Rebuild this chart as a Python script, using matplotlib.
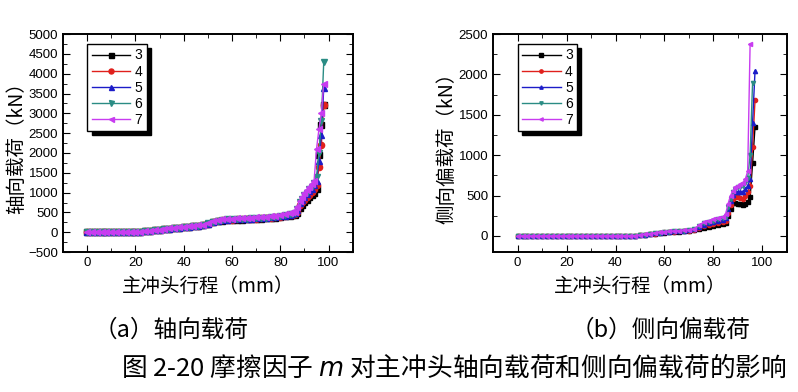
import numpy as np
import matplotlib
matplotlib.use('Agg')
import matplotlib.pyplot as plt
from matplotlib.ticker import MultipleLocator

plt.rcParams['font.family'] = ['Liberation Sans', 'Noto Sans CJK SC', 'DejaVu Sans']
CJK = ['Noto Sans CJK SC', 'DejaVu Sans']

# friction factor labels
labels = ['3', '4', '5', '6', '7']

# stroke (mm): every 2 mm up to 84, then every 1 mm
x_a = [0, 2, 4, 6, 8, 10, 12, 14, 16, 18, 20, 22, 24, 26, 28, 30, 32, 34, 36, 38, 40,
       42, 44, 46, 48, 50, 52, 54, 56, 58, 60, 62, 64, 66, 68, 70, 72, 74, 76, 78, 80,
       82, 84, 85, 86, 87, 88, 89, 90, 91, 92, 93, 94, 95, 96, 97, 98]
x_b = [0, 2, 4, 6, 8, 10, 12, 14, 16, 18, 20, 22, 24, 26, 28, 30, 32, 34, 36, 38, 40,
       42, 44, 46, 48, 50, 52, 54, 56, 58, 60, 62, 64, 66, 68, 70, 72, 74, 76, 78, 80,
       82, 84, 85, 86, 87, 88, 89, 90, 91, 92, 93, 94, 95, 96, 97]

# (a) axial load (kN)
axial_3 = [0, 0, 0, 0, 0, 0, 0, 0, 0, 2, 5, 12, 20, 32, 45, 60, 75, 90, 105, 118, 130,
           142, 155, 168, 178, 210, 250, 280, 295, 305, 310, 315, 320, 325, 330, 335, 342, 350, 360, 372, 385,
           400, 420, 430, 440, 480, 620, 700, 760, 820, 880, 940, 1000, 1080, 1950, 2700, 3200]
axial_4 = [0, 0, 0, 0, 0, 0, 0, 0, 0, 2, 5, 12, 20, 32, 45, 60, 75, 90, 105, 118, 130,
           142, 155, 168, 180, 215, 258, 288, 302, 312, 318, 323, 328, 333, 338, 343, 350, 358, 370, 382, 395,
           410, 432, 445, 455, 520, 680, 760, 820, 880, 950, 1010, 1080, 1180, 1650, 2200, 3220]
axial_5 = [0, 0, 0, 0, 0, 0, 0, 0, 0, 2, 5, 12, 20, 32, 45, 60, 75, 90, 105, 118, 130,
           142, 155, 168, 182, 220, 262, 292, 308, 318, 324, 330, 335, 340, 345, 350, 358, 366, 378, 390, 404,
           420, 445, 460, 475, 560, 740, 820, 900, 960, 1030, 1100, 1180, 1300, 1800, 2450, 3650]
axial_6 = [0, 0, 0, 0, 0, 0, 0, 0, 0, 2, 5, 12, 20, 32, 45, 60, 75, 90, 105, 118, 130,
           142, 155, 168, 183, 222, 266, 296, 312, 322, 328, 334, 340, 345, 350, 356, 364, 372, 384, 396, 410,
           428, 455, 470, 485, 580, 760, 850, 930, 1000, 1080, 1150, 1250, 1400, 2000, 2800, 4300]
axial_7 = [0, 0, 0, 0, 0, 0, 0, 0, 0, 3, 6, 14, 22, 35, 48, 64, 80, 96, 112, 125, 138,
           150, 163, 176, 192, 235, 280, 312, 330, 340, 346, 352, 358, 364, 370, 376, 385, 395, 408, 420, 435,
           455, 480, 500, 520, 640, 800, 900, 980, 1060, 1130, 1220, 1300, 2100, 2600, 3000, 3750]

# (b) lateral eccentric load (kN)
lat_3 = [0, 0, 0, 0, 0, 0, 0, 0, 0, 0, 0, 0, 0, 0, 0, 0, 0, 0, 0, 0, 0,
         0, 0, 0, 2, 6, 12, 18, 25, 32, 40, 45, 50, 53, 57, 62, 70, 85, 100, 110, 120,
         130, 145, 160, 250, 330, 410, 410, 400, 390, 380, 390, 420, 480, 900, 1350]
lat_4 = [0, 0, 0, 0, 0, 0, 0, 0, 0, 0, 0, 0, 0, 0, 0, 0, 0, 0, 0, 0, 0,
         0, 0, 0, 2, 7, 14, 20, 28, 36, 43, 48, 53, 57, 61, 65, 74, 100, 125, 140, 150,
         160, 175, 190, 290, 380, 460, 480, 480, 470, 460, 490, 540, 620, 1100, 1680]
lat_5 = [0, 0, 0, 0, 0, 0, 0, 0, 0, 0, 0, 0, 0, 0, 0, 0, 0, 0, 0, 0, 0,
         0, 0, 0, 3, 8, 16, 23, 31, 39, 46, 51, 56, 60, 64, 68, 80, 110, 140, 160, 175,
         185, 200, 220, 330, 430, 510, 540, 550, 550, 550, 580, 620, 700, 1400, 2040]
lat_6 = [0, 0, 0, 0, 0, 0, 0, 0, 0, 0, 0, 0, 0, 0, 0, 0, 0, 0, 0, 0, 0,
         0, 0, 0, 3, 9, 17, 25, 33, 41, 48, 53, 58, 62, 66, 70, 82, 120, 155, 175, 190,
         205, 220, 240, 360, 460, 540, 580, 600, 610, 620, 660, 720, 1000, 1900]
lat_7 = [0, 0, 0, 0, 0, 0, 0, 0, 0, 0, 0, 0, 0, 0, 0, 0, 0, 0, 0, 0, 0,
         0, 0, 0, 4, 10, 19, 27, 36, 44, 51, 56, 61, 65, 69, 73, 85, 130, 170, 190, 210,
         225, 240, 270, 400, 500, 560, 600, 620, 640, 660, 700, 800, 2380]

colors = ['#000000', '#e0201c', '#1c1cc8', '#2a8c84', '#c83cf0']
markers = ['s', 'o', '^', 'v', '<']


def style_axes(ax, ymin, ymax, ystep):
    ax.set_xlim(-10, 110)
    ax.set_ylim(ymin, ymax)
    ax.xaxis.set_major_locator(MultipleLocator(20))
    ax.xaxis.set_minor_locator(MultipleLocator(10))
    ax.yaxis.set_major_locator(MultipleLocator(ystep))
    ax.yaxis.set_minor_locator(MultipleLocator(ystep / 2))
    ax.tick_params(which='both', direction='in', top=True, right=True, labelsize=9.5)
    ax.tick_params(which='major', length=5)
    ax.tick_params(which='minor', length=3)
    for s in ax.spines.values():
        s.set_linewidth(1.4)
    ax.set_xlabel('主冲头行程（mm）', family=CJK, fontsize=14, labelpad=5)
    ax.legend(loc='upper left', bbox_to_anchor=(0.06, 0.985), fontsize=10,
              fancybox=False, edgecolor='k', framealpha=1, borderpad=0.3,
              handlelength=2.8, handletextpad=0.3, labelspacing=0.15, markerscale=0.8,
              shadow={'color': 'k', 'alpha': 1, 'ox': 3, 'oy': -3})


fig = plt.figure(figsize=(7.98, 3.92), dpi=100)
ax1 = fig.add_axes([0.079, 0.357, 0.363, 0.556])
ax2 = fig.add_axes([0.618, 0.357, 0.368, 0.556])

for ys, c, m, lab in zip([axial_3, axial_4, axial_5, axial_6, axial_7], colors, markers, labels):
    ax1.plot(x_a[:len(ys)], ys, color=c, marker=m, ms=4.5, lw=1.0, label=lab)
for ys, c, m, lab in zip([lat_3, lat_4, lat_5, lat_6, lat_7], colors, markers, labels):
    ax2.plot(x_b[:len(ys)], ys, color=c, marker=m, ms=3, lw=1.0, label=lab)

style_axes(ax1, -500, 5000, 500)
style_axes(ax2, -200, 2500, 500)
ax1.set_ylabel('轴向载荷（kN）', family=CJK, fontsize=14, labelpad=1)
ax2.set_ylabel('侧向偏载荷（kN）', family=CJK, fontsize=14, labelpad=1)

fig.text(0.214, 0.158, '（a）轴向载荷', family=CJK, fontsize=17, ha='center', va='center')
fig.text(0.828, 0.158, '（b）侧向偏载荷', family=CJK, fontsize=17, ha='center', va='center')
fig.text(0.569, 0.062, '图 2-20 摩擦因子 $m$ 对主冲头轴向载荷和侧向偏载荷的影响',
         family=CJK, fontsize=18.5, ha='center', va='center')

fig.savefig('out.png', dpi=100)
